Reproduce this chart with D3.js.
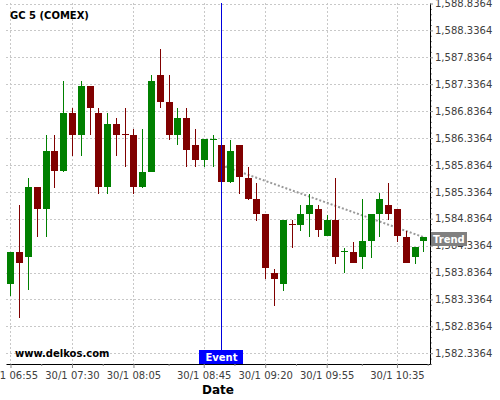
<!DOCTYPE html>
<html><head><meta charset="utf-8">
<script src="https://cdn.jsdelivr.net/npm/d3@7"></script>
<style>
body{margin:0;background:#fff;}
svg{display:block;font-family:"DejaVu Sans",sans-serif;}
</style>
</head><body>
<svg id="c" width="500" height="400"></svg>
<script>
// ---------- data ----------
const title = "GC 5 (COMEX)";
const day = "30/1";
const times = ["06:55","07:00","07:05","07:10","07:15","07:20","07:25","07:30","07:35","07:40",
  "07:45","07:50","07:55","08:00","08:05","08:10","08:15","08:20","08:25","08:30",
  "08:35","08:40","08:45","08:50","08:55","09:00","09:05","09:10","09:15","09:20",
  "09:25","09:30","09:35","09:40","09:45","09:50","09:55","10:00","10:05","10:10",
  "10:15","10:20","10:25","10:30","10:35","10:40","10:45","10:50"];
const open = [1583.63,1584.21,1584.13,1585.42,1585.02,1586.10,1585.72,1586.81,1586.40,1587.31,
  1586.81,1585.42,1586.60,1586.41,1586.40,1585.42,1585.71,1587.51,1587.01,1586.40,
  1586.71,1586.21,1585.92,1586.31,1586.21,1585.51,1586.21,1585.60,1585.21,1584.92,
  1583.82,1583.63,1584.73,1584.72,1584.92,1585.01,1584.52,1584.81,1584.22,1584.21,
  1584.13,1584.42,1584.92,1585.10,1585.01,1584.50,1584.13,1584.42];
const high = [1584.21,1585.10,1585.60,1585.42,1586.39,1586.39,1587.39,1586.89,1587.39,1587.31,
  1586.89,1586.81,1586.71,1586.89,1586.50,1586.50,1587.51,1587.99,1587.51,1586.89,
  1586.89,1586.50,1586.31,1586.40,1586.21,1586.30,1586.21,1585.80,1585.50,1584.92,
  1583.91,1584.81,1584.81,1585.10,1585.29,1585.10,1584.91,1585.60,1584.30,1584.41,
  1585.21,1584.92,1585.31,1585.50,1585.01,1584.61,1584.31,1584.50];
const low = [1583.40,1583.00,1583.51,1584.50,1584.50,1585.41,1585.70,1586.00,1586.00,1586.39,
  1585.30,1585.30,1586.00,1585.80,1585.30,1585.40,1585.70,1586.89,1586.29,1586.21,
  1585.80,1585.80,1585.80,1585.80,1585.51,1585.50,1585.29,1585.19,1584.79,1583.71,
  1583.21,1583.50,1584.30,1584.61,1584.50,1584.50,1584.51,1584.00,1583.82,1584.02,
  1583.91,1584.11,1584.50,1584.81,1584.40,1584.01,1584.00,1584.21];
const close = [1584.21,1584.02,1585.42,1585.02,1586.10,1585.72,1586.81,1586.40,1587.31,1586.90,
  1585.42,1586.60,1586.40,1586.40,1585.42,1585.71,1587.40,1587.01,1586.40,1586.71,
  1586.11,1585.92,1586.31,1586.32,1585.51,1586.10,1585.61,1585.21,1584.92,1583.92,
  1583.71,1584.81,1584.72,1584.92,1585.10,1584.63,1584.81,1584.13,1584.23,1584.02,
  1584.42,1584.92,1585.21,1584.92,1584.52,1584.01,1584.31,1584.50];
const xTickLabels = ["06:55","07:30","08:05","08:45","09:20","09:55","10:35"];
const yTickValues = [1582.3364,1582.8364,1583.3364,1583.8364,1584.3364,1584.8364,1585.3364,
  1585.8364,1586.3364,1586.8364,1587.3364,1587.8364,1588.3364,1588.8364];
const eventTime = "08:55";
const eventLabel = "Event";
const trendTimes = ["08:55","10:53"];
const trendValues = [1585.83,1584.46];
const trendLabel = "Trend";
const yDomain = [1582.1357,1588.8457];

// ---------- layout ----------
const L = 6, R = 430, T = 3, B = 364;
const parse = d3.timeParse("%H:%M");
const fmt = d3.timeFormat("%H:%M");
const tms = times.map(parse);
const data = tms.map((t,i)=>({t, o:open[i], h:high[i], l:low[i], c:close[i]}));

const minute = 60000;
const x = d3.scaleTime()
  .domain([new Date(+tms[0] - 2.56*minute), new Date(+tms[tms.length-1] + 3.81*minute)])
  .range([L, R]);
const y = d3.scaleLinear().domain(yDomain).range([B, T]);

const svg = d3.select("#c");
svg.append("rect").attr("width",500).attr("height",400).attr("fill","#fff");

const majorT = xTickLabels.map(parse);
// minor ticks at midpoints
const minorT = [];
for (let i=0;i<majorT.length-1;i++) minorT.push(new Date((+majorT[i] + +majorT[i+1])/2));
minorT.push(new Date(+majorT[majorT.length-1] + (majorT[1]-majorT[0])/2));

// grid
const grid = svg.append("g").attr("stroke","#c8c8c8").attr("stroke-dasharray","2,2").attr("stroke-width",1);
grid.selectAll("line.h").data(yTickValues).join("line").attr("class","h")
  .attr("x1",L).attr("x2",R)
  .attr("y1",d=>Math.round(y(d))+0.5).attr("y2",d=>Math.round(y(d))+0.5);
grid.selectAll("line.v").data(majorT).join("line").attr("class","v")
  .attr("y1",T).attr("y2",B)
  .attr("x1",d=>Math.round(x(d))+0.5).attr("x2",d=>Math.round(x(d))+0.5);

// trend line (beneath candles)
const trendPts = trendTimes.map((t,i)=>[x(parse(t)), y(trendValues[i])]);
svg.append("path").attr("d", d3.line()(trendPts))
  .attr("fill","none").attr("stroke","#999").attr("stroke-width",2).attr("stroke-dasharray","2,2");

// candles
const up = "#008000", down = "#800000";
const bw = 7;
const cg = svg.append("g");
cg.selectAll("line").data(data).join("line")
  .attr("x1",d=>Math.round(x(d.t))+0.5).attr("x2",d=>Math.round(x(d.t))+0.5)
  .attr("y1",d=>Math.round(y(d.h))).attr("y2",d=>Math.round(y(d.l)))
  .attr("stroke",d=>d.c>=d.o?up:down).attr("stroke-width",1);
cg.selectAll("rect").data(data).join("rect")
  .attr("x",d=>Math.round(x(d.t))+0.5-bw/2)
  .attr("y",d=>Math.round(y(Math.max(d.o,d.c))))
  .attr("width",bw)
  .attr("height",d=>Math.max(1, Math.round(y(Math.min(d.o,d.c))) - Math.round(y(Math.max(d.o,d.c)))))
  .attr("fill",d=>d.c>=d.o?up:down);

// event line
const ex = Math.round(x(parse(eventTime)))+0.5;
svg.append("line").attr("x1",ex).attr("x2",ex).attr("y1",T).attr("y2",B)
  .attr("stroke","#0000dd").attr("stroke-width",1);

// axes
const xAxis = svg.append("g").attr("transform",`translate(0,${B})`)
  .call(d3.axisBottom(x).tickValues(majorT).tickFormat(d=>day+" "+fmt(d)).tickSizeInner(4).tickSizeOuter(0).tickPadding(4));
xAxis.select(".domain").attr("stroke","#000");
xAxis.selectAll(".tick line").attr("stroke","#888");
xAxis.selectAll("text").attr("font-size","10px").attr("fill","#404040").attr("font-family","DejaVu Sans");
const xMinor = svg.append("g").attr("transform",`translate(0,${B})`)
  .call(d3.axisBottom(x).tickValues(minorT).tickFormat("").tickSizeInner(2).tickSizeOuter(0));
xMinor.select(".domain").remove();
xMinor.selectAll(".tick line").attr("stroke","#888");

const yMinorVals = [];
yTickValues.forEach(v=>{ for(let k=1;k<5;k++){ const m=v+0.1*k; if(m<yDomain[1]) yMinorVals.push(m);} });
const yMinorLow = [];
for(let k=1;k<5;k++){ const m=yTickValues[0]-0.1*k; if(m>yDomain[0]) yMinorLow.push(m); }
const yMinor = svg.append("g").attr("transform",`translate(${R},0)`)
  .call(d3.axisRight(y).tickValues(yMinorVals.concat(yMinorLow)).tickFormat("").tickSizeInner(2).tickSizeOuter(0));
yMinor.select(".domain").remove();
yMinor.selectAll(".tick line").attr("stroke","#888");
const yAxis = svg.append("g").attr("transform",`translate(${R},0)`)
  .call(d3.axisRight(y).tickValues(yTickValues).tickFormat(d3.format(",.4f")).tickSizeInner(3).tickSizeOuter(0).tickPadding(2));
yAxis.select(".domain").attr("stroke","#000");
yAxis.selectAll(".tick line").attr("stroke","#888");
yAxis.selectAll("text").attr("font-size","10px").attr("fill","#404040").attr("font-family","DejaVu Sans");

// event box
svg.append("rect").attr("x",ex-22.5).attr("y",B-14).attr("width",44).attr("height",14).attr("fill","#0000ff");
svg.append("text").attr("x",ex).attr("y",B-3).attr("text-anchor","middle")
  .attr("font-size","10px").attr("font-weight","bold").attr("fill","#fff").text(eventLabel);

// trend label
const ty = y(trendValues[1]);
svg.append("rect").attr("x",R+1).attr("y",Math.round(ty)-7).attr("width",36).attr("height",14).attr("fill","#808080");
svg.append("text").attr("x",R+3).attr("y",Math.round(ty)+4)
  .attr("font-size","10px").attr("font-weight","bold").attr("fill","#fff").text(trendLabel);

// title & watermark
svg.append("text").attr("x",10).attr("y",19).attr("font-size","10px").attr("font-weight","bold").attr("fill","#000").text(title);
svg.append("text").attr("x",15).attr("y",357).attr("font-size","10px").attr("font-weight","bold").attr("fill","#000").text("www.delkos.com");
svg.append("text").attr("x",(L+R)/2).attr("y",394).attr("text-anchor","middle")
  .attr("font-size","12px").attr("font-weight","bold").attr("fill","#000").text("Date");
</script>
</body></html>
